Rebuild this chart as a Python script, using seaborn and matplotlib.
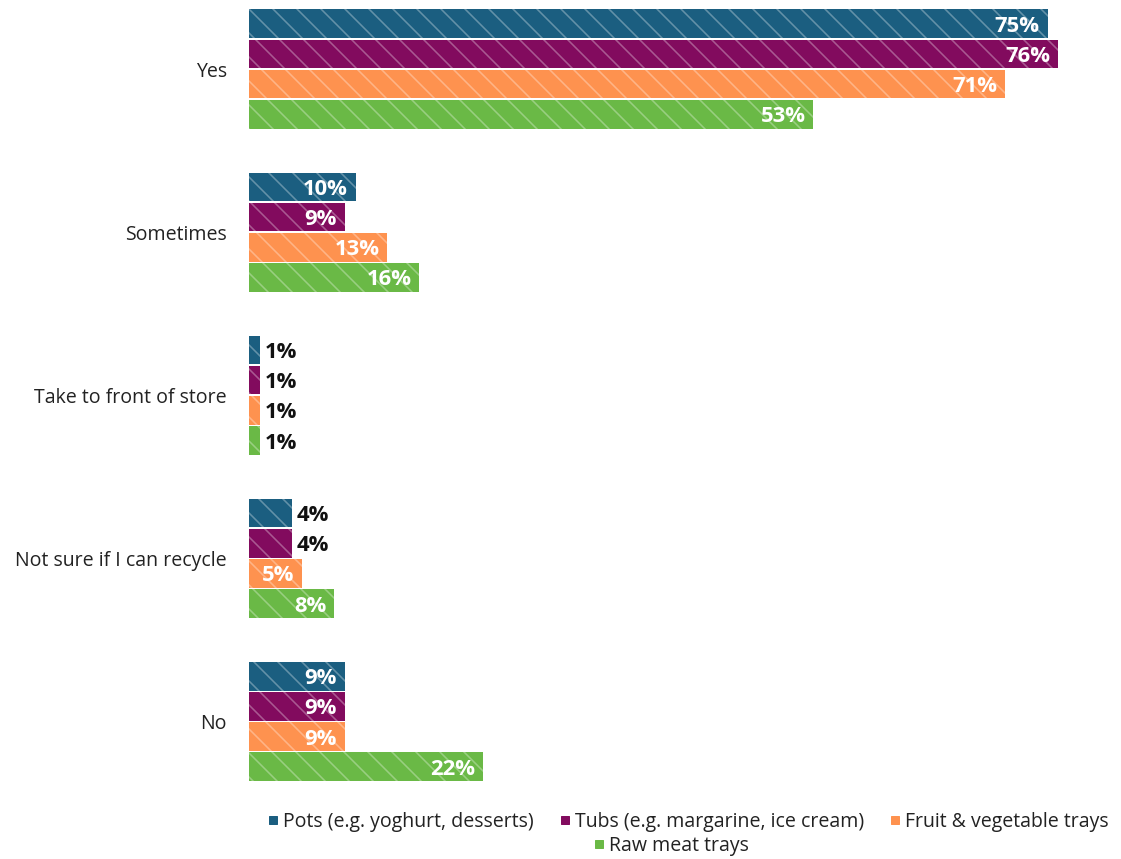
import matplotlib
matplotlib.use("Agg")
import matplotlib.pyplot as plt
from matplotlib.lines import Line2D
import pandas as pd
import seaborn as sns

# Survey answers and the packaging types asked about
answers = ["Yes", "Sometimes", "Take to front of store", "Not sure if I can recycle", "No"]
packaging = [
    "Pots (e.g. yoghurt, desserts)",
    "Tubs (e.g. margarine, ice cream)",
    "Fruit & vegetable trays",
    "Raw meat trays",
]
pots = [75, 10, 1, 4, 9]
tubs = [76, 9, 1, 4, 9]
fruit_veg = [71, 13, 1, 5, 9]
raw_meat = [53, 16, 1, 8, 22]
colors = ["#1b5e80", "#820b5e", "#fe924f", "#6ab946"]

rows = []
for pkg, vals in zip(packaging, [pots, tubs, fruit_veg, raw_meat]):
    for ans, v in zip(answers, vals):
        rows.append({"answer": ans, "packaging": pkg, "pct": v})
df = pd.DataFrame(rows)

sns.set_style("white")
plt.rcParams["font.family"] = ["Open Sans", "DejaVu Sans"]
plt.rcParams["hatch.linewidth"] = 1.6

W, H, DPI = 1121, 859, 72
fig = plt.figure(figsize=(W / DPI, H / DPI), dpi=DPI)
ax = fig.add_axes([249 / W, 1 - 790 / H, (1101 - 249) / W, 790 / H])

sns.barplot(
    data=df, y="answer", x="pct", hue="packaging", order=answers,
    hue_order=packaging, palette=colors, orient="h", width=0.74, gap=0.05,
    legend=False, ax=ax, saturation=1,
)

for cont in ax.containers:
    for patch in cont.patches:
        patch.set_hatch("\\")
        patch.set_edgecolor((1, 1, 1, 0.32))
        patch.set_linewidth(0)

# Value labels: inside the bar in white, or just past the end in black for short bars
for cont in ax.containers:
    for patch in cont.patches:
        v = patch.get_width()
        yc = patch.get_y() + patch.get_height() / 2
        label = f"{v:.0f}%"
        if v >= 5:
            ax.annotate(label, (v, yc), xytext=(-8, 0), textcoords="offset points",
                        ha="right", va="center_baseline", color="white",
                        fontsize=22, fontweight="bold")
        else:
            ax.annotate(label, (v, yc), xytext=(5, 0), textcoords="offset points",
                        ha="left", va="center_baseline", color="#111111",
                        fontsize=22, fontweight="bold")

ax.set_xlim(0, 80)
ax.set_ylim(4.42, -0.423)
ax.set_xlabel("")
ax.set_ylabel("")
ax.set_xticks([])
ax.tick_params(axis="y", length=0, pad=22, labelsize=19.5, labelcolor="#222222")
for s in ax.spines.values():
    s.set_visible(False)

handles = [Line2D([], [], marker="s", linestyle="", markersize=8, color=c) for c in colors]
fig.legend(handles[:3], packaging[:3], loc="center", bbox_to_anchor=(688 / W, 1 - 822 / H),
           ncol=3, frameon=False, fontsize=19.5, handletextpad=0.2, columnspacing=1.3,
           handlelength=0.6, labelcolor="#222222")
fig.legend(handles[3:], packaging[3:], loc="center", bbox_to_anchor=(671 / W, 1 - 846 / H),
           ncol=1, frameon=False, fontsize=19.5, handletextpad=0.2, handlelength=0.6,
           labelcolor="#222222")

fig.savefig("out.png", dpi=DPI, facecolor="white")
